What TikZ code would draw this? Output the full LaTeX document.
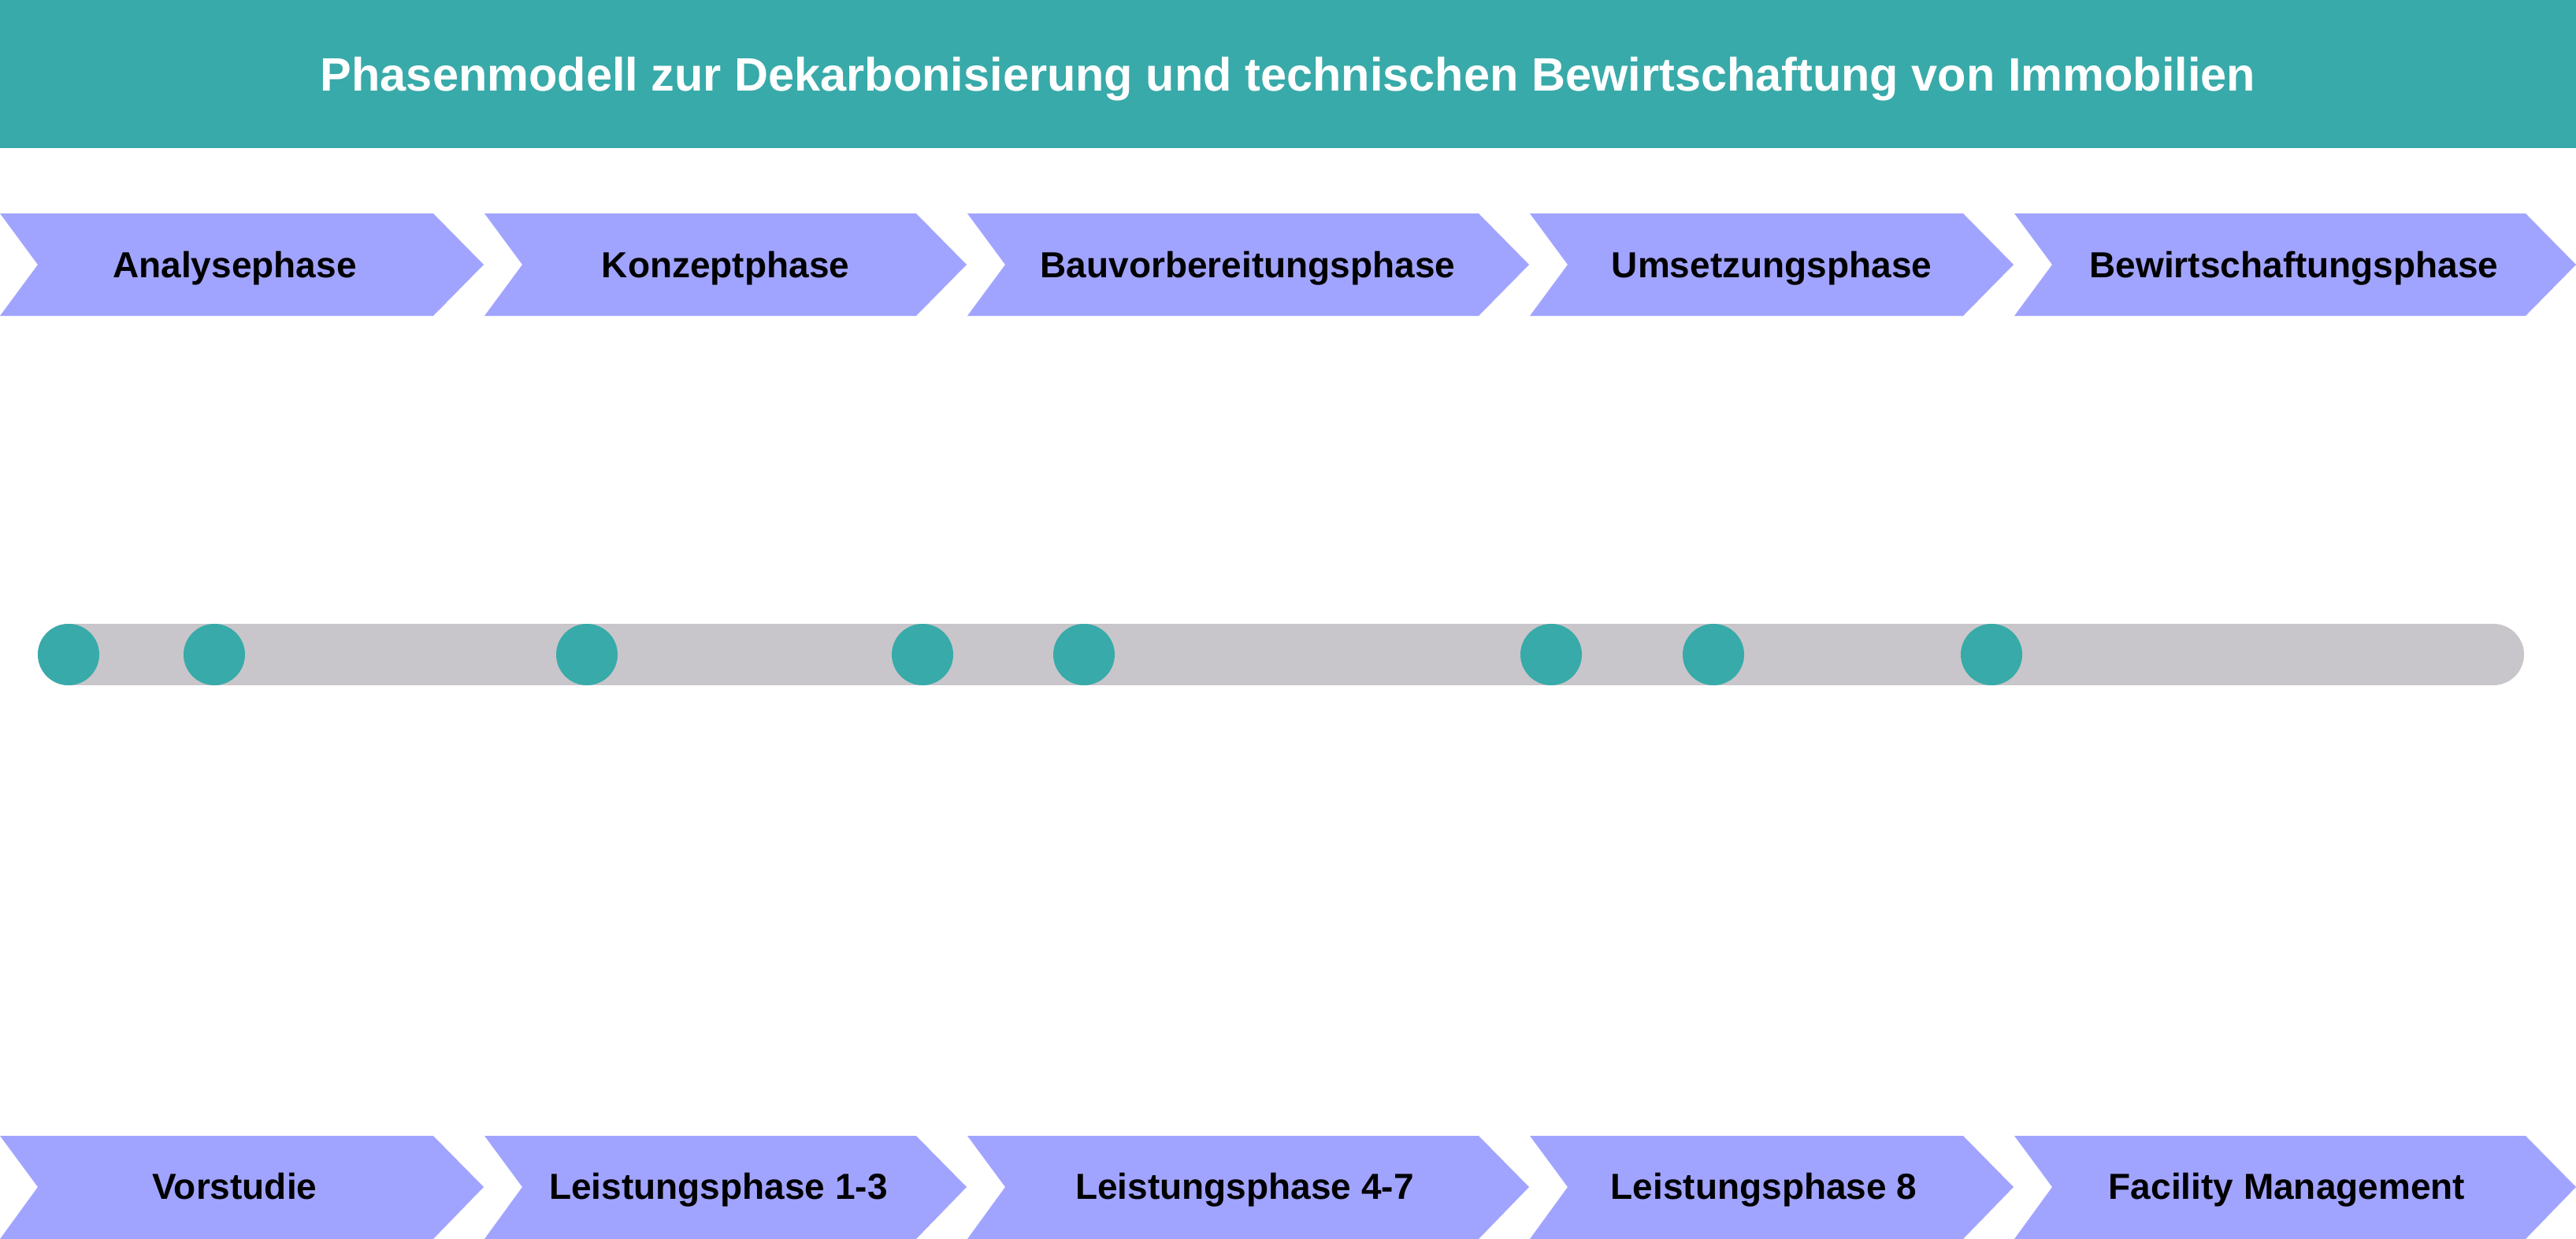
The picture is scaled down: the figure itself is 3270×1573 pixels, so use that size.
\documentclass[tikz,border=0pt]{standalone}
\usepackage{fontspec}
\setmainfont{Liberation Sans}
\usetikzlibrary{positioning}

\definecolor{headteal}{HTML}{38AAA9}
\definecolor{phaseblue}{HTML}{A1A4FF}
\definecolor{trackgray}{HTML}{C8C6CA}

\tikzset{
  phaselabel/.style={font=\fontsize{46}{55}\selectfont\bfseries, text=black, inner sep=0pt, anchor=base},
  milestone/.style={circle, fill=headteal, minimum size=78pt, inner sep=0pt},
  note/.style={font=\fontsize{44}{56}\selectfont, text=white, align=left, inner sep=0pt, anchor=west},
  noteline/.style={draw=white, line width=2pt},
}

\begin{document}
\begin{tikzpicture}[x=1pt, y=-1pt]
  \useasboundingbox (0,0) rectangle (3270,1573);

  % header
  \fill[headteal] (0,0) rectangle (3270,188);
  \node[font=\fontsize{59.5}{70}\selectfont\bfseries, text=white, anchor=base] (title) at (1635,116)
    {Phasenmodell zur Dekarbonisierung und technischen Bewirtschaftung von Immobilien};

  % phase arrows top and bottom
  \foreach \xa/\xb/\lt/\lb/\ptxt/\btxt [count=\i] in {
      0/614/298/298/Analysephase/Vorstudie,
      615/1227/921/912/Konzeptphase/Leistungsphase 1-3,
      1228/1941/1584/1580/Bauvorbereitungsphase/Leistungsphase 4-7,
      1942/2556/2249/2239/Umsetzungsphase/Leistungsphase 8,
      2557/3270/2912/2903/Bewirtschaftungsphase/Facility Management} {
    \fill[phaseblue] (\xa,271) -- (\xb-64,271) -- (\xb,336) -- (\xb-64,401)
      -- (\xa,401) -- (\xa+48,336) -- cycle;
    \fill[phaseblue] (\xa,1442) -- (\xb-64,1442) -- (\xb,1507) -- (\xb-64,1573)
      -- (\xa,1573) -- (\xa+48,1507) -- cycle;
    \node[phaselabel] (phase\i) at (\lt,352) {\ptxt};
    \node[phaselabel] (step\i) at (\lb,1522) {\btxt};
  }

  % timeline
  \coordinate (trackstart) at (87,831);
  \coordinate (trackend) at (3165,831);
  \draw[trackgray, line width=78pt, line cap=round] (trackstart) -- (trackend);
  \foreach \x [count=\i] in {87,272,745,1171,1376,1969,2175,2528}
    \node[milestone] (m\i) at (\x,831) {};

  % notes above
  \coordinate (b1) at (87,550);
  \coordinate (b4) at (1171,550);
  \coordinate (b6) at (1969,547);
  \draw[noteline] (m1) -- (b1);
  \draw[noteline] (m4) -- (b4);
  \draw[noteline] (m6) -- (b6);
  \node[note] (n1) at (123,550) {Potenzialanalyse};
  \node[note] (n4) at (1209,605) {Übergabe Finanzierungskonzept\\und Kostenberechnung\\Projektfreigabe};
  \node[note] (n6) at (2006,576) {Umsetzung und Übergabe\\schlüsselfertigen Bauleistung};

  % notes below
  \coordinate (b2) at (272,1012);
  \coordinate (b3) at (745,1273);
  \coordinate (b5) at (1376,1197);
  \coordinate (b7) at (2175,1310);
  \coordinate (b8) at (2528,1200);
  \draw[noteline] (m2) -- (b2);
  \draw[noteline] (m3) -- (b3);
  \draw[noteline] (m5) -- (b5);
  \draw[noteline] (m7) -- (b7);
  \draw[noteline] (m8) -- (b8);
  \node[note] (n2) at (315,1012) {Bestandsanalyse};
  \node[note] (n3) at (784,1218) {Grundlagenermittlung\\Vorplanung\\Entwurfsplanung};
  \node[note] (n5) at (1413,1142) {Genehmigungsplanung\\Ausführungsplanung\\Vergabevorgang};
  \node[note] (n7) at (2215,1310) {Projektleitung und -steuerung};
  \node[note] (n8) at (2565,1087) {Gewährleistungsmanagement\\Wartungsmanagement\\Kleininstandhaltung\\Leerwohnungssanierung\\Energiemanagement};

  % bullets
  \foreach \p in {(87,550),(1171,550),(1171,660),(1969,547),(272,1012),
      (745,1163),(745,1218),(745,1273),(1376,1087),(1376,1140),(1376,1197),
      (2175,1310),(2528,973),(2528,1032),(2528,1087),(2528,1143),(2528,1200)}
    \fill[white] \p circle (5);
\end{tikzpicture}
\end{document}
